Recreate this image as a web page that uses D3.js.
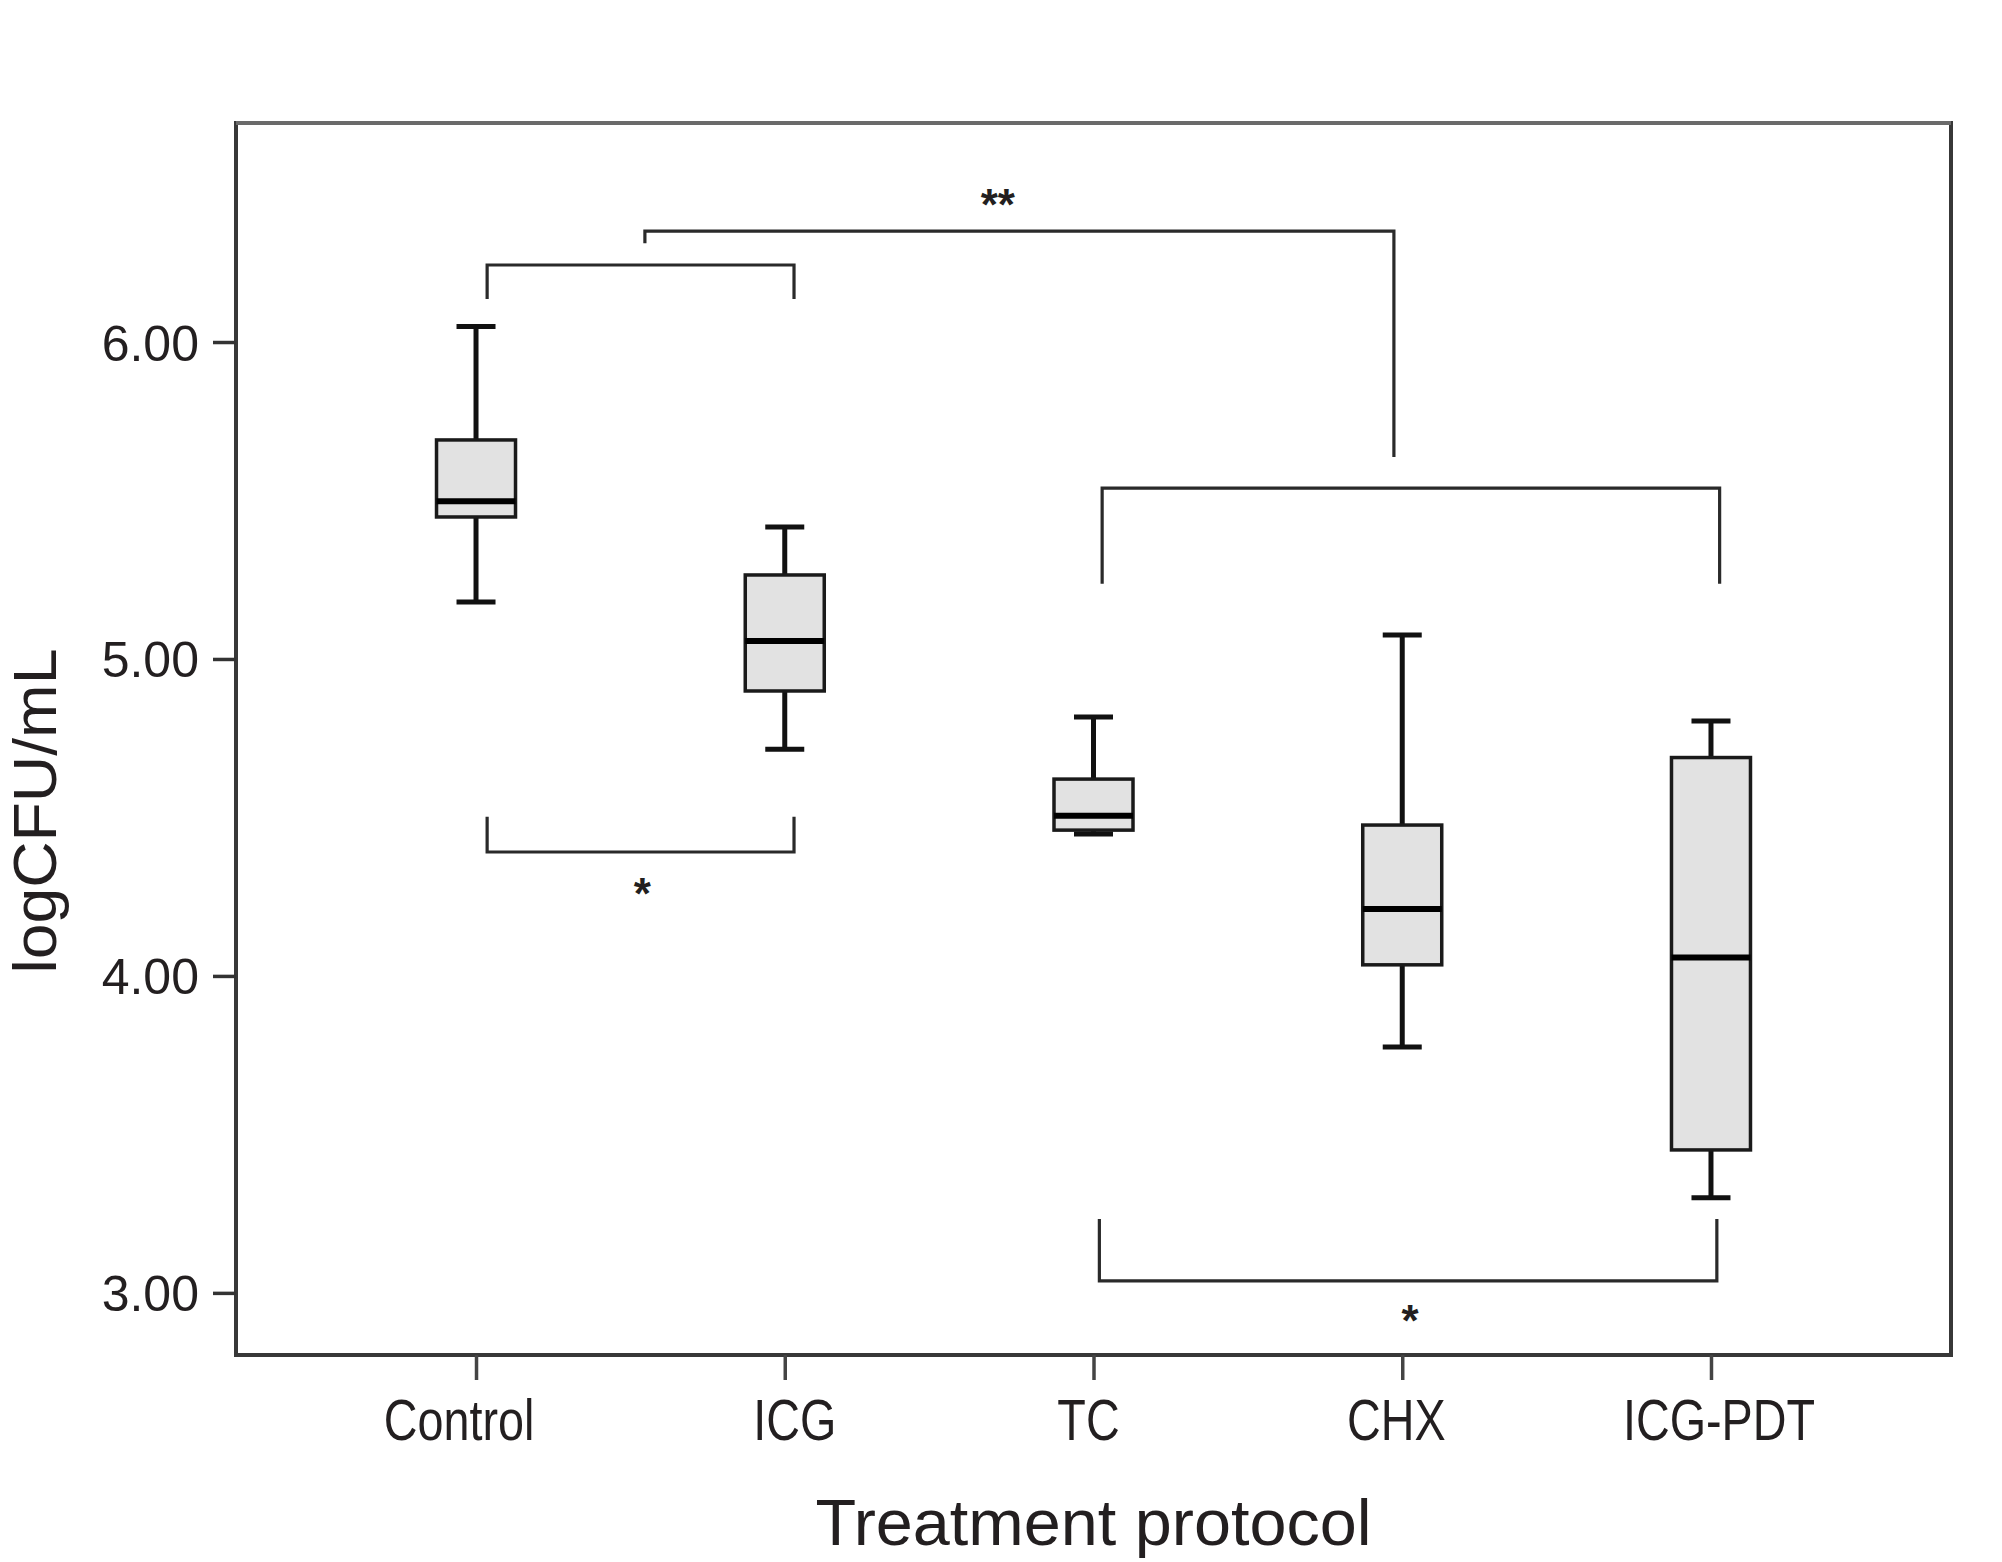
<!DOCTYPE html>
<html>
<head>
<meta charset="utf-8">
<script src="https://cdn.jsdelivr.net/npm/d3@7"></script>
<style>
  html, body { margin: 0; padding: 0; background: #ffffff; }
  svg { display: block; }
  text { font-family: "Liberation Sans", Arial, Helvetica, sans-serif; fill: #231f20; }
</style>
</head>
<body>
<div id="chart"></div>
<script>
// ---------------- data ----------------
const categories   = ["Control", "ICG", "TC", "CHX", "ICG-PDT"];
const whiskerLow   = [5.18, 4.715, 4.448, 3.776, 3.30];
const q1           = [5.448, 4.899, 4.46, 4.035, 3.451];
const median       = [5.498, 5.057, 4.505, 4.211, 4.058];
const q3           = [5.691, 5.265, 4.621, 4.476, 4.689];
const whiskerHigh  = [6.049, 5.416, 4.817, 5.076, 4.804];

const yTicks       = [3, 4, 5, 6];
const yTickLabels  = ["3.00", "4.00", "5.00", "6.00"];
const yDomain      = [2.804, 6.691];

const xTitle = "Treatment protocol";
const yTitle = "logCFU/mL";

// significance brackets: category-index anchors and value levels
const bracketFrom   = [0.036, 0.547, 2.028, 0.036, 2.019];
const bracketTo     = [1.030, 2.973, 4.028, 1.030, 4.019];
const bracketLevel  = [6.243, 6.350, 5.539, 4.391, 3.038];
const bracketEndL   = [6.136, 6.312, 5.237, 4.502, 3.233];
const bracketEndR   = [6.136, 5.637, 5.237, 4.502, 3.233];
const bracketLabel  = ["", "**", "", "*", "*"];
const labelIndex    = [0, 1.690, 0, 0.539, 3.025];
const labelLevel    = [0, 6.467, 0, 4.293, 2.946];

// ---------------- layout / style ----------------
const W = 2002, H = 1562;
const plot = { left: 236, top: 123, right: 1951, bottom: 1355 };
const labelNudge = [-17, 10, -5, -6, 8];   // small horizontal text nudges (px)

const svg = d3.select("#chart").append("svg")
  .attr("width", W).attr("height", H);

const x = d3.scalePoint()
  .domain(categories)
  .range([plot.left, plot.right])
  .padding(0.7774);

const xi = d3.scaleLinear()
  .domain([0, categories.length - 1])
  .range([x(categories[0]), x(categories[categories.length - 1])]);

const y = d3.scaleLinear()
  .domain(yDomain)
  .range([plot.bottom, plot.top]);

// ---------------- frame ----------------
svg.append("rect")
  .attr("x", plot.left).attr("y", plot.top)
  .attr("width", plot.right - plot.left)
  .attr("height", plot.bottom - plot.top)
  .attr("fill", "none")
  .attr("stroke", "#383838")
  .attr("stroke-width", 4);
svg.append("line")
  .attr("x1", plot.left).attr("x2", plot.right)
  .attr("y1", plot.top).attr("y2", plot.top)
  .attr("stroke", "#6a6a6a").attr("stroke-width", 4);

// ---------------- axes ----------------
const yAxis = d3.axisLeft(y)
  .tickValues(yTicks)
  .tickFormat((d, i) => yTickLabels[i])
  .tickSize(23)
  .tickPadding(14);
const gy = svg.append("g")
  .attr("transform", `translate(${plot.left},0)`)
  .call(yAxis);
gy.select(".domain").remove();
gy.selectAll(".tick line").attr("stroke", "#333").attr("stroke-width", 3.5);
gy.selectAll(".tick text")
  .attr("font-size", 50)
  .attr("fill", "#231f20")
  .attr("dy", "0.36em")
  .attr("font-family", "'Liberation Sans', Arial, sans-serif");

const xAxis = d3.axisBottom(x)
  .tickSize(25)
  .tickFormat("");
const gx = svg.append("g")
  .attr("transform", `translate(0,${plot.bottom})`)
  .call(xAxis);
gx.select(".domain").remove();
gx.selectAll(".tick line").attr("stroke", "#444").attr("stroke-width", 3.5);

// category labels (narrow type)
svg.append("g").selectAll("g.lab")
  .data(categories)
  .join("g")
  .attr("class", "lab")
  .attr("transform", (d, i) => `translate(${x(d) + labelNudge[i]},1440) scale(0.82,1)`)
  .append("text")
  .attr("text-anchor", "middle")
  .attr("font-size", 57)
  .text(d => d);

// axis titles
svg.append("text")
  .attr("x", (plot.left + plot.right) / 2)
  .attr("y", 1545)
  .attr("text-anchor", "middle")
  .attr("font-size", 64)
  .attr("textLength", 556)
  .attr("lengthAdjust", "spacingAndGlyphs")
  .text(xTitle);

svg.append("text")
  .attr("transform", `translate(56,${y(4.52)}) rotate(-90)`)
  .attr("text-anchor", "middle")
  .attr("font-size", 62)
  .attr("textLength", 325)
  .attr("lengthAdjust", "spacingAndGlyphs")
  .text(yTitle);

// ---------------- boxplots ----------------
const boxW = 79, capW = 39;
const boxes = categories.map((c, i) => ({
  c, lo: whiskerLow[i], q1: q1[i], med: median[i], q3: q3[i], hi: whiskerHigh[i]
}));

const gb = svg.append("g").selectAll("g.box").data(boxes).join("g").attr("class", "box");

gb.append("line")
  .attr("x1", d => x(d.c)).attr("x2", d => x(d.c))
  .attr("y1", d => y(d.hi)).attr("y2", d => y(d.q3))
  .attr("stroke", "#111").attr("stroke-width", 5);
gb.append("line")
  .attr("x1", d => x(d.c)).attr("x2", d => x(d.c))
  .attr("y1", d => y(d.q1)).attr("y2", d => y(d.lo))
  .attr("stroke", "#111").attr("stroke-width", 5);
gb.append("line")
  .attr("x1", d => x(d.c) - capW / 2).attr("x2", d => x(d.c) + capW / 2)
  .attr("y1", d => y(d.hi)).attr("y2", d => y(d.hi))
  .attr("stroke", "#111").attr("stroke-width", 5);
gb.append("line")
  .attr("x1", d => x(d.c) - capW / 2).attr("x2", d => x(d.c) + capW / 2)
  .attr("y1", d => y(d.lo)).attr("y2", d => y(d.lo))
  .attr("stroke", "#111").attr("stroke-width", 5);
gb.append("rect")
  .attr("x", d => x(d.c) - boxW / 2)
  .attr("y", d => y(d.q3))
  .attr("width", boxW)
  .attr("height", d => y(d.q1) - y(d.q3))
  .attr("fill", "#e2e2e2")
  .attr("stroke", "#1a1a1a")
  .attr("stroke-width", 3.5);
gb.append("line")
  .attr("x1", d => x(d.c) - boxW / 2).attr("x2", d => x(d.c) + boxW / 2)
  .attr("y1", d => y(d.med)).attr("y2", d => y(d.med))
  .attr("stroke", "#000").attr("stroke-width", 6);

// ---------------- brackets ----------------
const brackets = bracketFrom.map((f, i) => ({
  f, t: bracketTo[i], lvl: bracketLevel[i], eL: bracketEndL[i], eR: bracketEndR[i],
  lab: bracketLabel[i], li: labelIndex[i], ll: labelLevel[i]
}));

const gbr = svg.append("g").selectAll("g.br").data(brackets).join("g").attr("class", "br");
gbr.append("path")
  .attr("d", d => `M${xi(d.f)},${y(d.eL)}V${y(d.lvl)}H${xi(d.t)}V${y(d.eR)}`)
  .attr("fill", "none")
  .attr("stroke", "#2a2a2a")
  .attr("stroke-width", 3.2);
gbr.filter(d => d.lab !== "")
  .append("text")
  .attr("x", d => xi(d.li))
  .attr("y", d => y(d.ll))
  .attr("dy", "0.58em")
  .attr("text-anchor", "middle")
  .attr("font-size", 44)
  .attr("font-weight", "bold")
  .attr("fill", "#111")
  .text(d => d.lab);
</script>
</body>
</html>
